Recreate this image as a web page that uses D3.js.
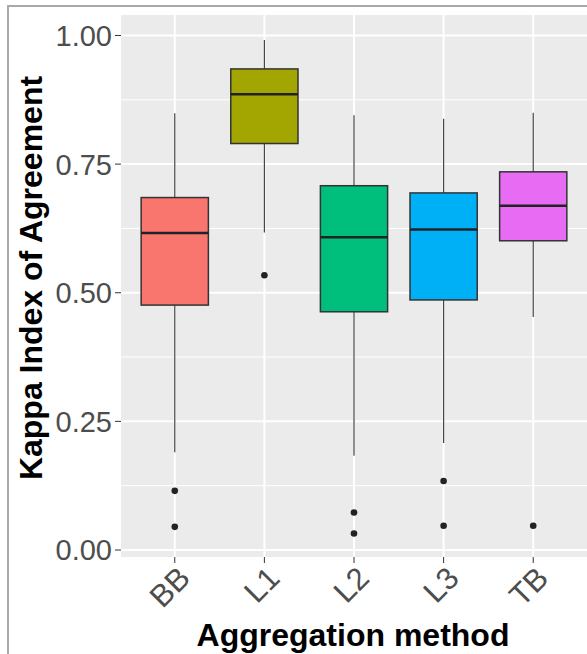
<!DOCTYPE html>
<html>
<head>
<meta charset="utf-8">
<script src="https://cdn.jsdelivr.net/npm/d3@7"></script>
<style>
  html, body { margin: 0; padding: 0; background: #fff; }
  svg { display: block; font-family: "Liberation Sans", Arial, sans-serif; }
</style>
</head>
<body>
<svg id="chart" width="587" height="654"></svg>
<script>
// Box-plot summaries of the kappa index for each aggregation method
const categories   = ["BB", "L1", "L2", "L3", "TB"];
const whiskerLow   = [0.190, 0.617, 0.183, 0.208, 0.453];
const lowerQuart   = [0.476, 0.790, 0.463, 0.486, 0.601];
const medians      = [0.616, 0.886, 0.608, 0.623, 0.669];
const upperQuart   = [0.685, 0.935, 0.708, 0.694, 0.735];
const whiskerHigh  = [0.849, 0.991, 0.845, 0.838, 0.850];
const outliers     = [[0.115, 0.045], [0.534], [0.073, 0.032], [0.134, 0.047], [0.047]];
const fills        = ["#F8766D", "#A3A500", "#00BF7D", "#00B0F6", "#E76BF3"];
const yTicks       = [0, 0.25, 0.5, 0.75, 1.0];
const yMinor       = [0.125, 0.375, 0.625, 0.875];

const svg = d3.select("#chart");

// outer frame of the figure
svg.append("rect")
  .attr("x", 8).attr("y", 6).attr("width", 620).attr("height", 700)
  .attr("fill", "#fff").attr("stroke", "#a9a9a9").attr("stroke-width", 2);

const panel = { left: 121, right: 587, top: 15, bottom: 557 };

const x = d3.scaleLinear().domain([-0.6, categories.length - 0.4]).range([panel.left, panel.right]);
const y = d3.scaleLinear().domain([-0.0136, 1.0398]).range([panel.bottom, panel.top]);
const step = x(1) - x(0);
const boxW = step * 0.75;

svg.append("rect")
  .attr("x", panel.left).attr("y", panel.top)
  .attr("width", panel.right - panel.left).attr("height", panel.bottom - panel.top)
  .attr("fill", "#EBEBEB");

const grid = svg.append("g");
grid.selectAll("line.minor").data(yMinor).join("line")
  .attr("class", "minor")
  .attr("x1", panel.left).attr("x2", panel.right)
  .attr("y1", d => y(d)).attr("y2", d => y(d))
  .attr("stroke", "#fff").attr("stroke-width", 1);
grid.selectAll("line.majorY").data(yTicks).join("line")
  .attr("class", "majorY")
  .attr("x1", panel.left).attr("x2", panel.right)
  .attr("y1", d => y(d)).attr("y2", d => y(d))
  .attr("stroke", "#fff").attr("stroke-width", 2);
grid.selectAll("line.majorX").data(categories).join("line")
  .attr("class", "majorX")
  .attr("x1", (d, i) => x(i)).attr("x2", (d, i) => x(i))
  .attr("y1", panel.top).attr("y2", panel.bottom)
  .attr("stroke", "#fff").attr("stroke-width", 2);

// boxes
const boxes = svg.append("g").selectAll("g").data(categories).join("g");
boxes.append("line")
  .attr("x1", (d, i) => x(i)).attr("x2", (d, i) => x(i))
  .attr("y1", (d, i) => y(upperQuart[i])).attr("y2", (d, i) => y(whiskerHigh[i]))
  .attr("stroke", "#444").attr("stroke-width", 1.2);
boxes.append("line")
  .attr("x1", (d, i) => x(i)).attr("x2", (d, i) => x(i))
  .attr("y1", (d, i) => y(lowerQuart[i])).attr("y2", (d, i) => y(whiskerLow[i]))
  .attr("stroke", "#444").attr("stroke-width", 1.2);
boxes.append("rect")
  .attr("x", (d, i) => x(i) - boxW / 2)
  .attr("width", boxW)
  .attr("y", (d, i) => y(upperQuart[i]))
  .attr("height", (d, i) => y(lowerQuart[i]) - y(upperQuart[i]))
  .attr("fill", (d, i) => fills[i])
  .attr("stroke", "#333").attr("stroke-width", 1.5);
boxes.append("line")
  .attr("x1", (d, i) => x(i) - boxW / 2).attr("x2", (d, i) => x(i) + boxW / 2)
  .attr("y1", (d, i) => y(medians[i])).attr("y2", (d, i) => y(medians[i]))
  .attr("stroke", "#222").attr("stroke-width", 2.5);
boxes.each(function(d, i) {
  d3.select(this).selectAll("circle").data(outliers[i]).join("circle")
    .attr("cx", x(i)).attr("cy", v => y(v)).attr("r", 3.3)
    .attr("fill", "#222");
});

// y axis
const yAxis = svg.append("g");
yAxis.selectAll("line").data(yTicks).join("line")
  .attr("x1", panel.left - 6).attr("x2", panel.left)
  .attr("y1", d => y(d)).attr("y2", d => y(d))
  .attr("stroke", "#333").attr("stroke-width", 1);
yAxis.selectAll("text").data(yTicks).join("text")
  .attr("x", panel.left - 9).attr("y", d => y(d))
  .attr("dy", "0.36em")
  .attr("text-anchor", "end")
  .attr("font-size", 29).attr("fill", "#4d4d4d")
  .text(d => d3.format(".2f")(d));

// x axis
const xAxis = svg.append("g");
xAxis.selectAll("line").data(categories).join("line")
  .attr("x1", (d, i) => x(i)).attr("x2", (d, i) => x(i))
  .attr("y1", panel.bottom).attr("y2", panel.bottom + 6)
  .attr("stroke", "#333").attr("stroke-width", 1);
xAxis.selectAll("text").data(categories).join("text")
  .attr("transform", (d, i) => `translate(${x(i) + 17},${panel.bottom + 23}) rotate(-45)`)
  .attr("text-anchor", "end")
  .attr("font-size", 31).attr("fill", "#4d4d4d")
  .text(d => d);

// axis titles
svg.append("text")
  .attr("x", 353).attr("y", 646)
  .attr("text-anchor", "middle")
  .attr("font-size", 32).attr("font-weight", "bold").attr("fill", "#000")
  .text("Aggregation method");
svg.append("text")
  .attr("transform", "translate(42,278) rotate(-90)")
  .attr("text-anchor", "middle")
  .attr("font-size", 32).attr("font-weight", "bold").attr("fill", "#000")
  .text("Kappa Index of Agreement");
</script>
</body>
</html>
